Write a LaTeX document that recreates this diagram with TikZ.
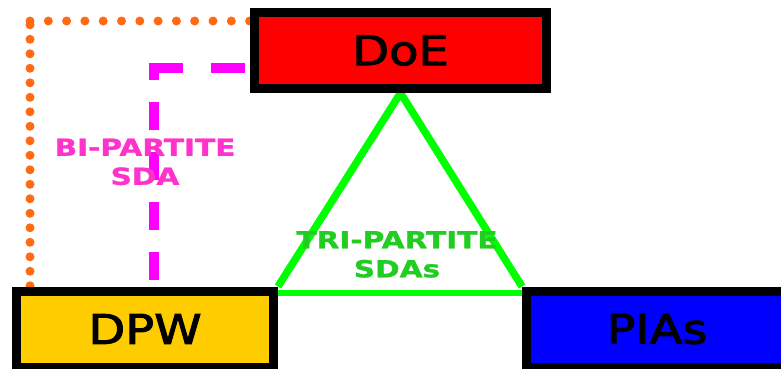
\documentclass[tikz,border=0pt]{standalone}
\usepackage{fontspec}
\setmainfont{DejaVu Sans}
\newfontfamily\bigfont{DejaVu Sans}[FakeBold=2.2]
\newfontfamily\lblfont{DejaVu Sans Bold}[FakeBold=1.2]
\usetikzlibrary{backgrounds}
\definecolor{doered}{HTML}{FF0000}
\definecolor{dpwgold}{HTML}{FFCC00}
\definecolor{piablue}{HTML}{0000FF}
\definecolor{trigreen}{HTML}{00FF00}
\definecolor{tritext}{HTML}{22CC22}
\definecolor{bimag}{HTML}{FF00FF}
\definecolor{bitext}{HTML}{FF33CC}
\definecolor{dotorange}{HTML}{FF6A13}
\newcommand\bigtxt[1]{\scalebox{1.17}[1]{#1}}
\newcommand\twoline[2]{\scalebox{1.26}[1]{\begin{tabular}{@{}c@{}}#1\\#2\end{tabular}}}
\begin{document}
\begin{tikzpicture}[x=1pt,y=-1pt,
  box/.style={draw=black, line width=9pt, inner sep=0pt, minimum height=76pt,
    font=\bigfont\fontsize{41}{41}\selectfont},
  lbl/.style={inner sep=0pt, font=\lblfont\fontsize{23.5}{29}\selectfont},
  orangedots/.style={draw=dotorange, line width=9pt, line cap=round},
  magdash/.style={draw=bimag, line width=10pt},
  triline/.style={draw=trigreen, line width=7.5pt, line join=miter}]
\clip (0,0) rectangle (781,368);
\node[box, fill=doered, minimum width=292pt] (DoE) at (400.5,50.5) {\bigtxt{DoE}};
\node[box, fill=dpwgold, minimum width=257pt] (DPW) at (145,329) {\bigtxt{DPW}};
\node[box, fill=piablue, minimum width=261pt] (PIA) at (657,329) {\bigtxt{PIAs}};
\coordinate (oc) at (30,21);
\coordinate (mc) at (153.5,67.5);
\begin{scope}[on background layer]
  % orange dotted connector DPW -- DoE
  \draw[orangedots, dash pattern=on 0pt off 18.3pt] (oc) -- (oc -| DoE.west);
  \draw[orangedots, dash pattern=on 0pt off 14.5pt, dash phase=10.7pt] (oc) -- (oc |- DPW.north);
  % magenta dashed connector DPW -- DoE
  \draw[magdash, dash pattern=on 28pt off 22pt] ([yshift=7pt]mc |- DPW.north) -- (mc);
  \draw[magdash, dash pattern=on 34pt off 28pt] ([xshift=-5pt]mc) -- (mc -| DoE.west);
  % green triangle
  \draw[triline] (DPW.north east) -- (DoE.south) -- (PIA.north west);
  \draw[draw=trigreen, line width=6pt] ([yshift=-6pt]DPW.north east) -- ([yshift=-6pt]PIA.north west);
\end{scope}
\node[lbl, text=bitext] (bi) at (145,164.5) {\twoline{BI-PARTITE}{SDA}};
\node[lbl, text=tritext] (tri) at (397,257) {\twoline{TRI-PARTITE}{SDAs}};
\end{tikzpicture}
\end{document}
